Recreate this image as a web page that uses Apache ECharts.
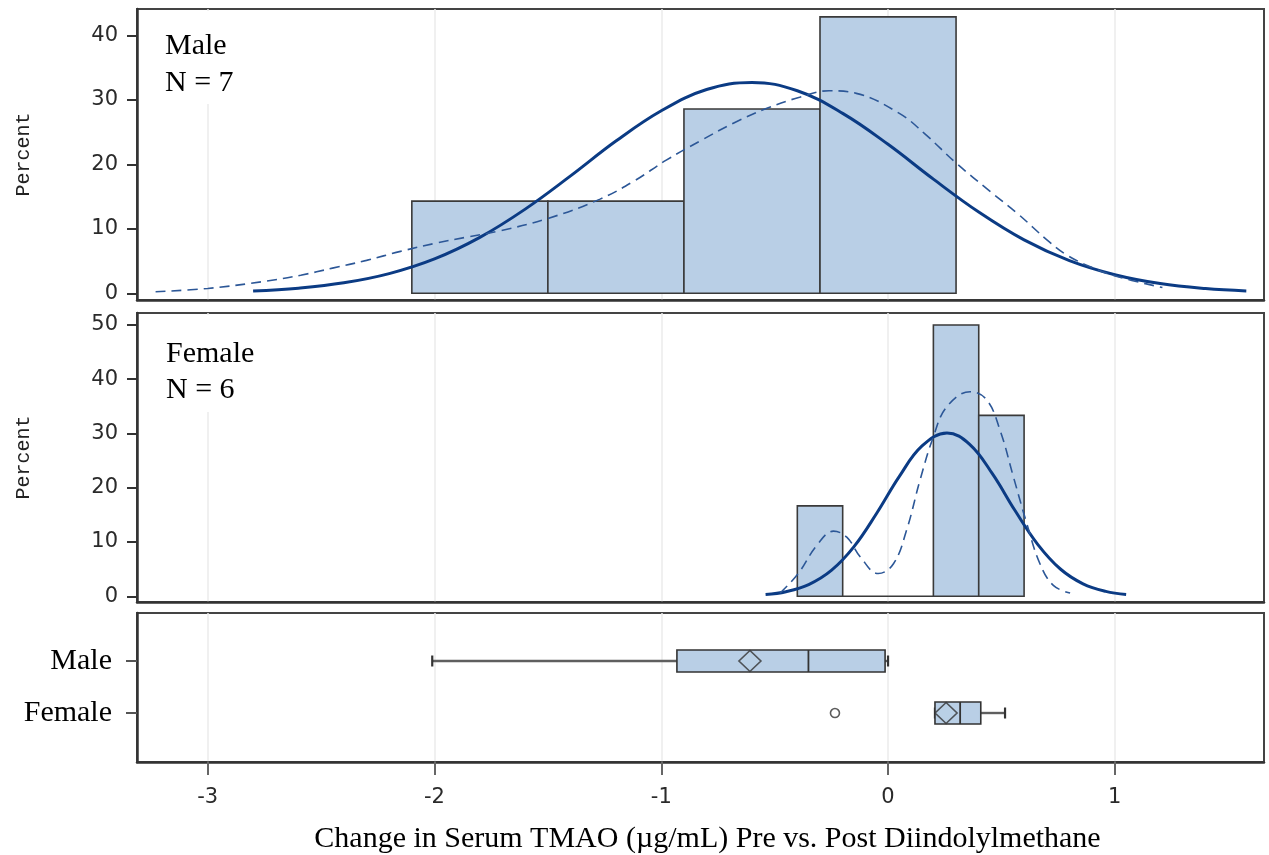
<!DOCTYPE html>
<html>
<head>
<meta charset="utf-8">
<script src="https://cdn.jsdelivr.net/npm/echarts@6/dist/echarts.min.js"></script>
<style>
  html, body { margin: 0; padding: 0; background: #fff; }
  #chart { width: 1269px; height: 855px; }
</style>
</head>
<body>
<div id="chart"></div>
<script>
// ---- Data ----------------------------------------------------------------
// Histogram bin edges and percent of subjects falling in each bin
const maleBinEdges = [-2.1, -1.5, -0.9, -0.3, 0.3];
const malePercent = [14.29, 14.29, 28.57, 42.86];
const femaleBinEdges = [-0.4, -0.2, 0.0, 0.2, 0.4, 0.6];
const femalePercent = [16.67, 0, 0, 50.0, 33.33];

// Fitted normal density, scaled to percent per bin  [x, percent]
const maleNormal = [[-2.8, 0.36], [-2.6, 0.8], [-2.4, 1.62], [-2.2, 3.05], [-2.0, 5.33], [-1.8, 8.67],
  [-1.6, 13.05], [-1.4, 18.2], [-1.2, 23.6], [-1.0, 28.3], [-0.8, 31.6], [-0.6, 32.7], [-0.4, 31.4],
  [-0.2, 27.9], [0.0, 23.1], [0.2, 17.7], [0.4, 12.6], [0.6, 8.28], [0.8, 5.06], [1.0, 2.88],
  [1.2, 1.51], [1.4, 0.74], [1.58, 0.37]];
// Kernel density estimate  [x, percent]
const maleKernel = [[-3.23, 0.25], [-3.0, 0.75], [-2.74, 1.9], [-2.59, 2.8], [-2.45, 3.9], [-2.3, 5.1],
  [-2.15, 6.5], [-1.99, 7.8], [-1.86, 8.7], [-1.71, 9.7], [-1.5, 11.6], [-1.27, 14.6], [-1.12, 17.4],
  [-0.98, 20.6], [-0.83, 23.6], [-0.68, 26.4], [-0.54, 28.6], [-0.39, 30.4], [-0.26, 31.4],
  [-0.14, 31.0], [0.05, 27.9], [0.16, 24.8], [0.3, 20.2], [0.45, 15.8], [0.57, 12.4], [0.71, 8.0],
  [0.79, 5.9], [0.9, 4.0], [1.01, 2.6], [1.21, 0.9]];

const femaleNormal = [[-0.54, 0.32], [-0.45, 0.84], [-0.35, 2.15], [-0.25, 4.76], [-0.15, 9.15],
  [-0.05, 15.3], [0.05, 22.1], [0.15, 27.7], [0.26, 30.1], [0.36, 28.0], [0.46, 22.6], [0.56, 15.8],
  [0.66, 9.58], [0.76, 5.03], [0.86, 2.3], [0.96, 0.91], [1.05, 0.35]];
const femaleKernel = [[-0.476, 0.6], [-0.396, 4.2], [-0.314, 9.4], [-0.241, 12.0], [-0.182, 10.9],
  [-0.123, 7.3], [-0.043, 4.2], [0.024, 6.0], [0.082, 12.2], [0.141, 21.4], [0.2, 29.4],
  [0.259, 34.9], [0.362, 37.7], [0.435, 36.2], [0.494, 30.6], [0.553, 22.0], [0.612, 13.4],
  [0.67, 6.0], [0.729, 2.0], [0.803, 0.6]];

// Box plot rows (bottom to top) and their summaries: [min, q1, median, q3, max]
const groupRows = ['Female', 'Male'];
const boxSummary = [
  [0.207, 0.207, 0.318, 0.409, 0.516],
  [-2.01, -0.931, -0.351, -0.013, 0.0]
];
const groupMeans = [0.256, -0.609];
const femaleOutliers = [-0.234];

// Axis tick values
const xTicks = [-3, -2, -1, 0, 1];
const maleYTicks = [0, 10, 20, 30, 40];
const femaleYTicks = [0, 10, 20, 30, 40, 50];

// ---- Styling -------------------------------------------------------------
const BAR_FILL = '#b9cfe6';
const DARK = '#333333';
const CURVE = '#0b3b84';
const CURVE_DASH = '#2c5797';
const SERIF = '"Liberation Serif", "Times New Roman", serif';
const TICK_FONT = '"DejaVu Sans", sans-serif';
const X_MIN = -3.312, X_MAX = 1.658;

function binItems(edges, pct) {
  return pct.map((p, i) => [edges[i], edges[i + 1], p]);
}

function histogramSeries(idx, edges, pct) {
  return {
    type: 'custom',
    xAxisIndex: idx, yAxisIndex: idx,
    z: 2,
    encode: { x: [0, 1], y: 2 },
    data: binItems(edges, pct),
    renderItem(params, api) {
      const p0 = api.coord([api.value(0), 0]);
      const p1 = api.coord([api.value(1), api.value(2)]);
      return {
        type: 'rect',
        shape: { x: p0[0], y: p1[1], width: p1[0] - p0[0], height: p0[1] - p1[1] },
        style: { fill: BAR_FILL, stroke: '#3a3a3a', lineWidth: 1.6 }
      };
    }
  };
}

function curveSeries(idx, data, dashed) {
  return {
    type: 'line',
    xAxisIndex: idx, yAxisIndex: idx,
    data: data,
    smooth: 0.4,
    showSymbol: false,
    symbol: 'none',
    z: 3,
    silent: true,
    lineStyle: dashed
      ? { color: CURVE_DASH, width: 1.6, type: [10, 6] }
      : { color: CURVE, width: 3 }
  };
}

function xAxisFor(idx, withLabels) {
  return {
    type: 'value', gridIndex: idx, min: X_MIN, max: X_MAX,
    axisLine: { show: true, onZero: false, lineStyle: { color: DARK, width: 2.5 } },
    axisTick: { show: withLabels, customValues: xTicks, length: 13, lineStyle: { color: '#666', width: 2 } },
    axisLabel: withLabels
      ? { show: true, customValues: xTicks, margin: 25, fontFamily: TICK_FONT, fontSize: 21, color: '#2a2a2a' }
      : { show: false },
    splitLine: { show: true, lineStyle: { color: '#ebebeb', width: 1.5 } },
    name: withLabels ? 'Change in Serum TMAO (\u00b5g/mL) Pre vs. Post Diindolylmethane' : '',
    nameLocation: 'middle',
    nameGap: 62,
    nameTextStyle: { fontFamily: SERIF, fontSize: 30, color: '#000', padding: [0, 0, 0, 14] }
  };
}

function percentAxis(idx, min, max, ticks) {
  return {
    type: 'value', gridIndex: idx, min: min, max: max,
    axisLine: { show: true, onZero: false, lineStyle: { color: DARK, width: 2.5 } },
    axisTick: { show: true, customValues: ticks, length: 10, lineStyle: { color: DARK, width: 2 } },
    axisLabel: { show: true, customValues: ticks, margin: 19, fontFamily: TICK_FONT, fontSize: 21, color: '#2a2a2a' },
    splitLine: { show: false },
    name: 'Percent',
    nameLocation: 'middle',
    nameRotate: 90,
    nameGap: 103,
    nameTextStyle: { fontFamily: '"Liberation Mono", monospace', fontSize: 20, color: '#222' }
  };
}

const boxItems = boxSummary.map((s, i) => [i].concat(s));
const meanPoints = groupMeans.map((m, i) => [m, i]);
const outlierPoints = femaleOutliers.map(v => [v, 0]);

const BOX_H = 22, CAP_H = 11;

const option = {
  animation: false,
  backgroundColor: '#fff',
  title: [
    {
      text: 'Male\nN = 7', left: 157, top: 11,
      padding: [17, 10, 2, 8], backgroundColor: '#fff',
      textStyle: { fontFamily: SERIF, fontSize: 30, fontWeight: 'normal', lineHeight: 37, color: '#000' }
    },
    {
      text: 'Female\nN = 6', left: 158, top: 315,
      padding: [21, 10, 4, 8], backgroundColor: '#fff',
      textStyle: { fontFamily: SERIF, fontSize: 30, fontWeight: 'normal', lineHeight: 36, color: '#000' }
    }
  ],
  grid: [
    { left: 137, right: 5, top: 9, height: 291, show: true, borderColor: '#444', borderWidth: 2, backgroundColor: 'transparent' },
    { left: 137, right: 5, top: 313, height: 289, show: true, borderColor: '#444', borderWidth: 2, backgroundColor: 'transparent' },
    { left: 137, right: 5, top: 613, height: 149, show: true, borderColor: '#444', borderWidth: 2, backgroundColor: 'transparent' }
  ],
  xAxis: [xAxisFor(0, false), xAxisFor(1, false), xAxisFor(2, true)],
  yAxis: [
    percentAxis(0, -1.04, 44.08, maleYTicks),
    percentAxis(1, -1.05, 52.2, femaleYTicks),
    {
      type: 'value', gridIndex: 2, min: -0.942, max: 1.923,
      axisLine: { show: true, onZero: false, lineStyle: { color: DARK, width: 2.5 } },
      axisTick: { show: true, customValues: [0, 1], length: 11, lineStyle: { color: '#555', width: 2 } },
      axisLabel: {
        show: true, customValues: [0, 1], margin: 25,
        fontFamily: SERIF, fontSize: 30, color: '#000',
        formatter: v => groupRows[Math.round(v)] || ''
      },
      splitLine: { show: false }
    }
  ],
  series: [
    histogramSeries(0, maleBinEdges, malePercent),
    curveSeries(0, maleNormal, false),
    curveSeries(0, maleKernel, true),
    histogramSeries(1, femaleBinEdges, femalePercent),
    curveSeries(1, femaleNormal, false),
    curveSeries(1, femaleKernel, true),
    {
      type: 'custom',
      xAxisIndex: 2, yAxisIndex: 2,
      z: 2,
      encode: { x: [1, 2, 3, 4, 5], y: 0 },
      data: boxItems,
      renderItem(params, api) {
        const row = api.value(0);
        const lo = api.coord([api.value(1), row]);
        const q1 = api.coord([api.value(2), row]);
        const md = api.coord([api.value(3), row]);
        const q3 = api.coord([api.value(4), row]);
        const hi = api.coord([api.value(5), row]);
        const cy = lo[1];
        const whisker = { stroke: '#5f5f5f', lineWidth: 2.4 };
        const cap = { stroke: '#333', lineWidth: 2.2 };
        return {
          type: 'group',
          children: [
            { type: 'line', shape: { x1: lo[0], y1: cy, x2: q1[0], y2: cy }, style: whisker },
            { type: 'line', shape: { x1: q3[0], y1: cy, x2: hi[0], y2: cy }, style: whisker },
            { type: 'line', shape: { x1: lo[0], y1: cy - CAP_H / 2, x2: lo[0], y2: cy + CAP_H / 2 }, style: cap },
            { type: 'line', shape: { x1: hi[0], y1: cy - CAP_H / 2, x2: hi[0], y2: cy + CAP_H / 2 }, style: cap },
            {
              type: 'rect',
              shape: { x: q1[0], y: cy - BOX_H / 2, width: q3[0] - q1[0], height: BOX_H },
              style: { fill: BAR_FILL, stroke: '#333', lineWidth: 1.6 }
            },
            { type: 'line', shape: { x1: md[0], y1: cy - BOX_H / 2, x2: md[0], y2: cy + BOX_H / 2 }, style: { stroke: '#333', lineWidth: 1.8 } }
          ]
        };
      }
    },
    {
      type: 'scatter',
      xAxisIndex: 2, yAxisIndex: 2,
      z: 4,
      symbol: 'diamond',
      symbolSize: [22, 21],
      data: meanPoints,
      itemStyle: { color: BAR_FILL, borderColor: '#333', borderWidth: 1.6 }
    },
    {
      type: 'scatter',
      xAxisIndex: 2, yAxisIndex: 2,
      z: 4,
      symbol: 'circle',
      symbolSize: 9,
      data: outlierPoints,
      itemStyle: { color: '#fff', borderColor: '#333', borderWidth: 1.6 }
    }
  ]
};

const chart = echarts.init(document.getElementById('chart'), null, { renderer: 'canvas' });
chart.setOption(option);
</script>
</body>
</html>
